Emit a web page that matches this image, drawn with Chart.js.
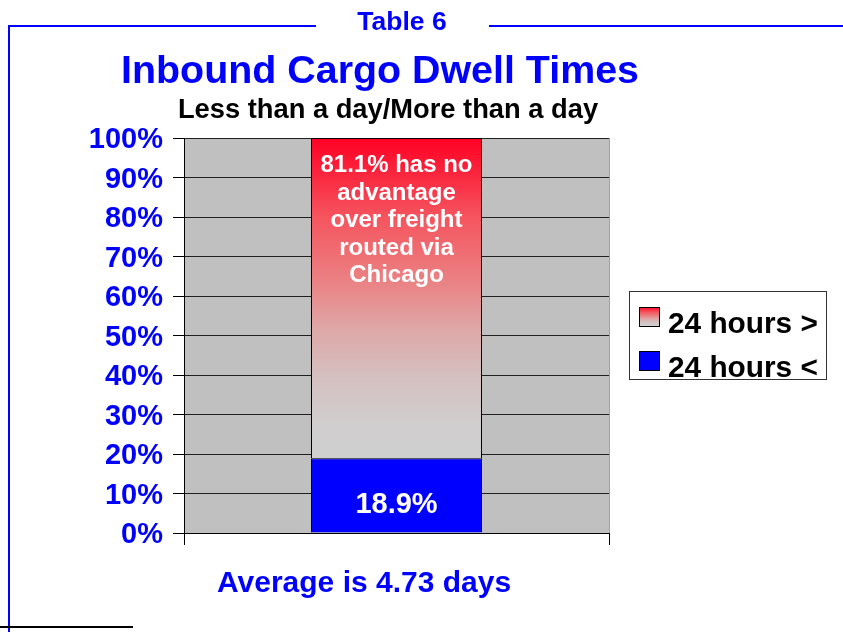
<!DOCTYPE html>
<html>
<head>
<meta charset="utf-8">
<script src="https://cdn.jsdelivr.net/npm/chart.js@4.4.0/dist/chart.umd.min.js"></script>
<style>
  html, body { margin: 0; padding: 0; background: #fff; overflow: hidden; }
</style>
</head>
<body>
<canvas id="myChart" width="843" height="632"></canvas>
<script>
// chart data
const categories = [''];
const underDay = [18.9];   // 24 hours <
const overDay = [81.1];    // 24 hours >
const seriesNames = ['24 hours <', '24 hours >'];
const yMin = 0, yMax = 100, yStep = 10;

const chartTitle = 'Inbound Cargo Dwell Times';
const chartSubtitle = 'Less than a day/More than a day';
const tableLabel = 'Table 6';
const footNote = 'Average is 4.73 days';
const overNote = [overDay[0] + '% has no', 'advantage', 'over freight', 'routed via', 'Chicago'];

const FONT = "'Liberation Sans', Arial, sans-serif";
const BLUE = '#0000ff';

function redFade(ctx, top, bottom) {
    const g = ctx.createLinearGradient(0, top, 0, bottom);
    g.addColorStop(0, 'rgb(255,0,35)');
    g.addColorStop(0.25, 'rgb(245,85,95)');
    g.addColorStop(0.45, 'rgb(234,130,132)');
    g.addColorStop(0.6, 'rgb(222,168,168)');
    g.addColorStop(0.75, 'rgb(212,192,192)');
    g.addColorStop(0.9, 'rgb(208,206,206)');
    g.addColorStop(1, 'rgb(208,208,208)');
    return g;
}

// frame, titles, notes and legend
const decor = {
    id: 'decor',
    beforeDraw(chart) {
        const { ctx, chartArea: a } = chart;
        ctx.save();
        ctx.fillStyle = '#fff';
        ctx.fillRect(0, 0, chart.width, chart.height);
        ctx.fillStyle = '#c0c0c0';
        ctx.fillRect(a.left, a.top, a.right - a.left, a.bottom - a.top);
        ctx.restore();
    },
    afterDraw(chart) {
        const { ctx } = chart;
        ctx.save();

        // blue frame round the table
        ctx.strokeStyle = BLUE;
        ctx.lineWidth = 2;
        ctx.beginPath();
        ctx.moveTo(9, 632); ctx.lineTo(9, 26); ctx.lineTo(316, 26);
        ctx.moveTo(489, 26); ctx.lineTo(843, 26);
        ctx.stroke();
        ctx.strokeStyle = '#000';
        ctx.beginPath();
        ctx.moveTo(0, 627); ctx.lineTo(133, 627);
        ctx.stroke();

        ctx.textBaseline = 'alphabetic';
        ctx.textAlign = 'center';
        ctx.fillStyle = BLUE;
        ctx.font = 'bold 26.5px ' + FONT;
        ctx.fillText(tableLabel, 402, 30);

        ctx.font = 'bold 39.4px ' + FONT;
        ctx.fillText(chartTitle, 380, 83);

        ctx.fillStyle = '#000';
        ctx.font = 'bold 27.3px ' + FONT;
        ctx.fillText(chartSubtitle, 388, 118);

        ctx.textAlign = 'left';
        ctx.fillStyle = BLUE;
        ctx.font = 'bold 30px ' + FONT;
        ctx.fillText(footNote, 217, 592);

        // notes inside the bars
        const top = chart.getDatasetMeta(1).data[0];
        const low = chart.getDatasetMeta(0).data[0];
        ctx.textAlign = 'center';
        ctx.fillStyle = '#fff';
        ctx.font = 'bold 24px ' + FONT;
        overNote.forEach((line, i) => ctx.fillText(line, top.x, top.y + 34 + i * 27.5));
        ctx.font = 'bold 29px ' + FONT;
        ctx.fillText(underDay[0].toFixed(1) + '%', low.x, low.base - 20);

        // legend
        ctx.lineWidth = 1;
        ctx.strokeStyle = '#333';
        ctx.strokeRect(629.5, 291.5, 197, 88);
        const items = [
            { label: seriesNames[1], fill: 'fade' },
            { label: seriesNames[0], fill: BLUE }
        ];
        ctx.textAlign = 'left';
        ctx.font = 'bold 29.8px ' + FONT;
        items.forEach((it, i) => {
            const sy = 307 + i * 44;
            ctx.fillStyle = it.fill === 'fade' ? redFade(ctx, sy, sy + 20) : it.fill;
            ctx.fillRect(639, sy, 21, 20);
            ctx.strokeStyle = '#000';
            ctx.strokeRect(639.5, sy + 0.5, 20, 19);
            ctx.fillStyle = '#000';
            ctx.fillText(it.label, 668, sy + 26);
        });
        ctx.restore();
    }
};

const ctx = document.getElementById('myChart').getContext('2d');
const myChart = new Chart(ctx, {
    type: 'bar',
    data: {
        labels: categories,
        datasets: [{
            label: seriesNames[0],
            data: underDay,
            backgroundColor: BLUE,
            borderColor: '#000',
            borderWidth: 1
        }, {
            label: seriesNames[1],
            data: overDay,
            backgroundColor: function (context) {
                const chart = context.chart;
                if (!chart.chartArea) return 'rgb(208,208,208)';
                const y = chart.scales.y;
                return redFade(chart.ctx, y.getPixelForValue(yMax), y.getPixelForValue(underDay[0]));
            },
            borderColor: '#000',
            borderWidth: 1
        }]
    },
    options: {
        responsive: false,
        devicePixelRatio: 1,
        animation: false,
        layout: { padding: { top: 138, right: 234, bottom: 79, left: 0 } },
        datasets: { bar: { categoryPercentage: 1, barPercentage: 0.4024 } },
        plugins: {
            legend: { display: false },
            tooltip: { enabled: false }
        },
        scales: {
            x: {
                stacked: true,
                grid: { offset: true, color: '#a0a0a0', tickColor: '#000', tickLength: 12 },
                border: { display: true, color: '#000' },
                ticks: { display: false },
                afterFit: function (s) { s.height = 20; }
            },
            y: {
                stacked: true,
                min: yMin,
                max: yMax,
                ticks: {
                    stepSize: yStep,
                    autoSkip: false,
                    padding: 10,
                    labelOffset: 2,
                    color: BLUE,
                    font: { family: FONT, size: 29, weight: 'bold' },
                    callback: function (v) { return v + '%'; }
                },
                grid: { color: '#202020', tickColor: '#000', tickLength: 11 },
                border: { color: '#000' },
                afterFit: function (s) { s.width = 184; }
            }
        }
    },
    plugins: [decor]
});
</script>
</body>
</html>
